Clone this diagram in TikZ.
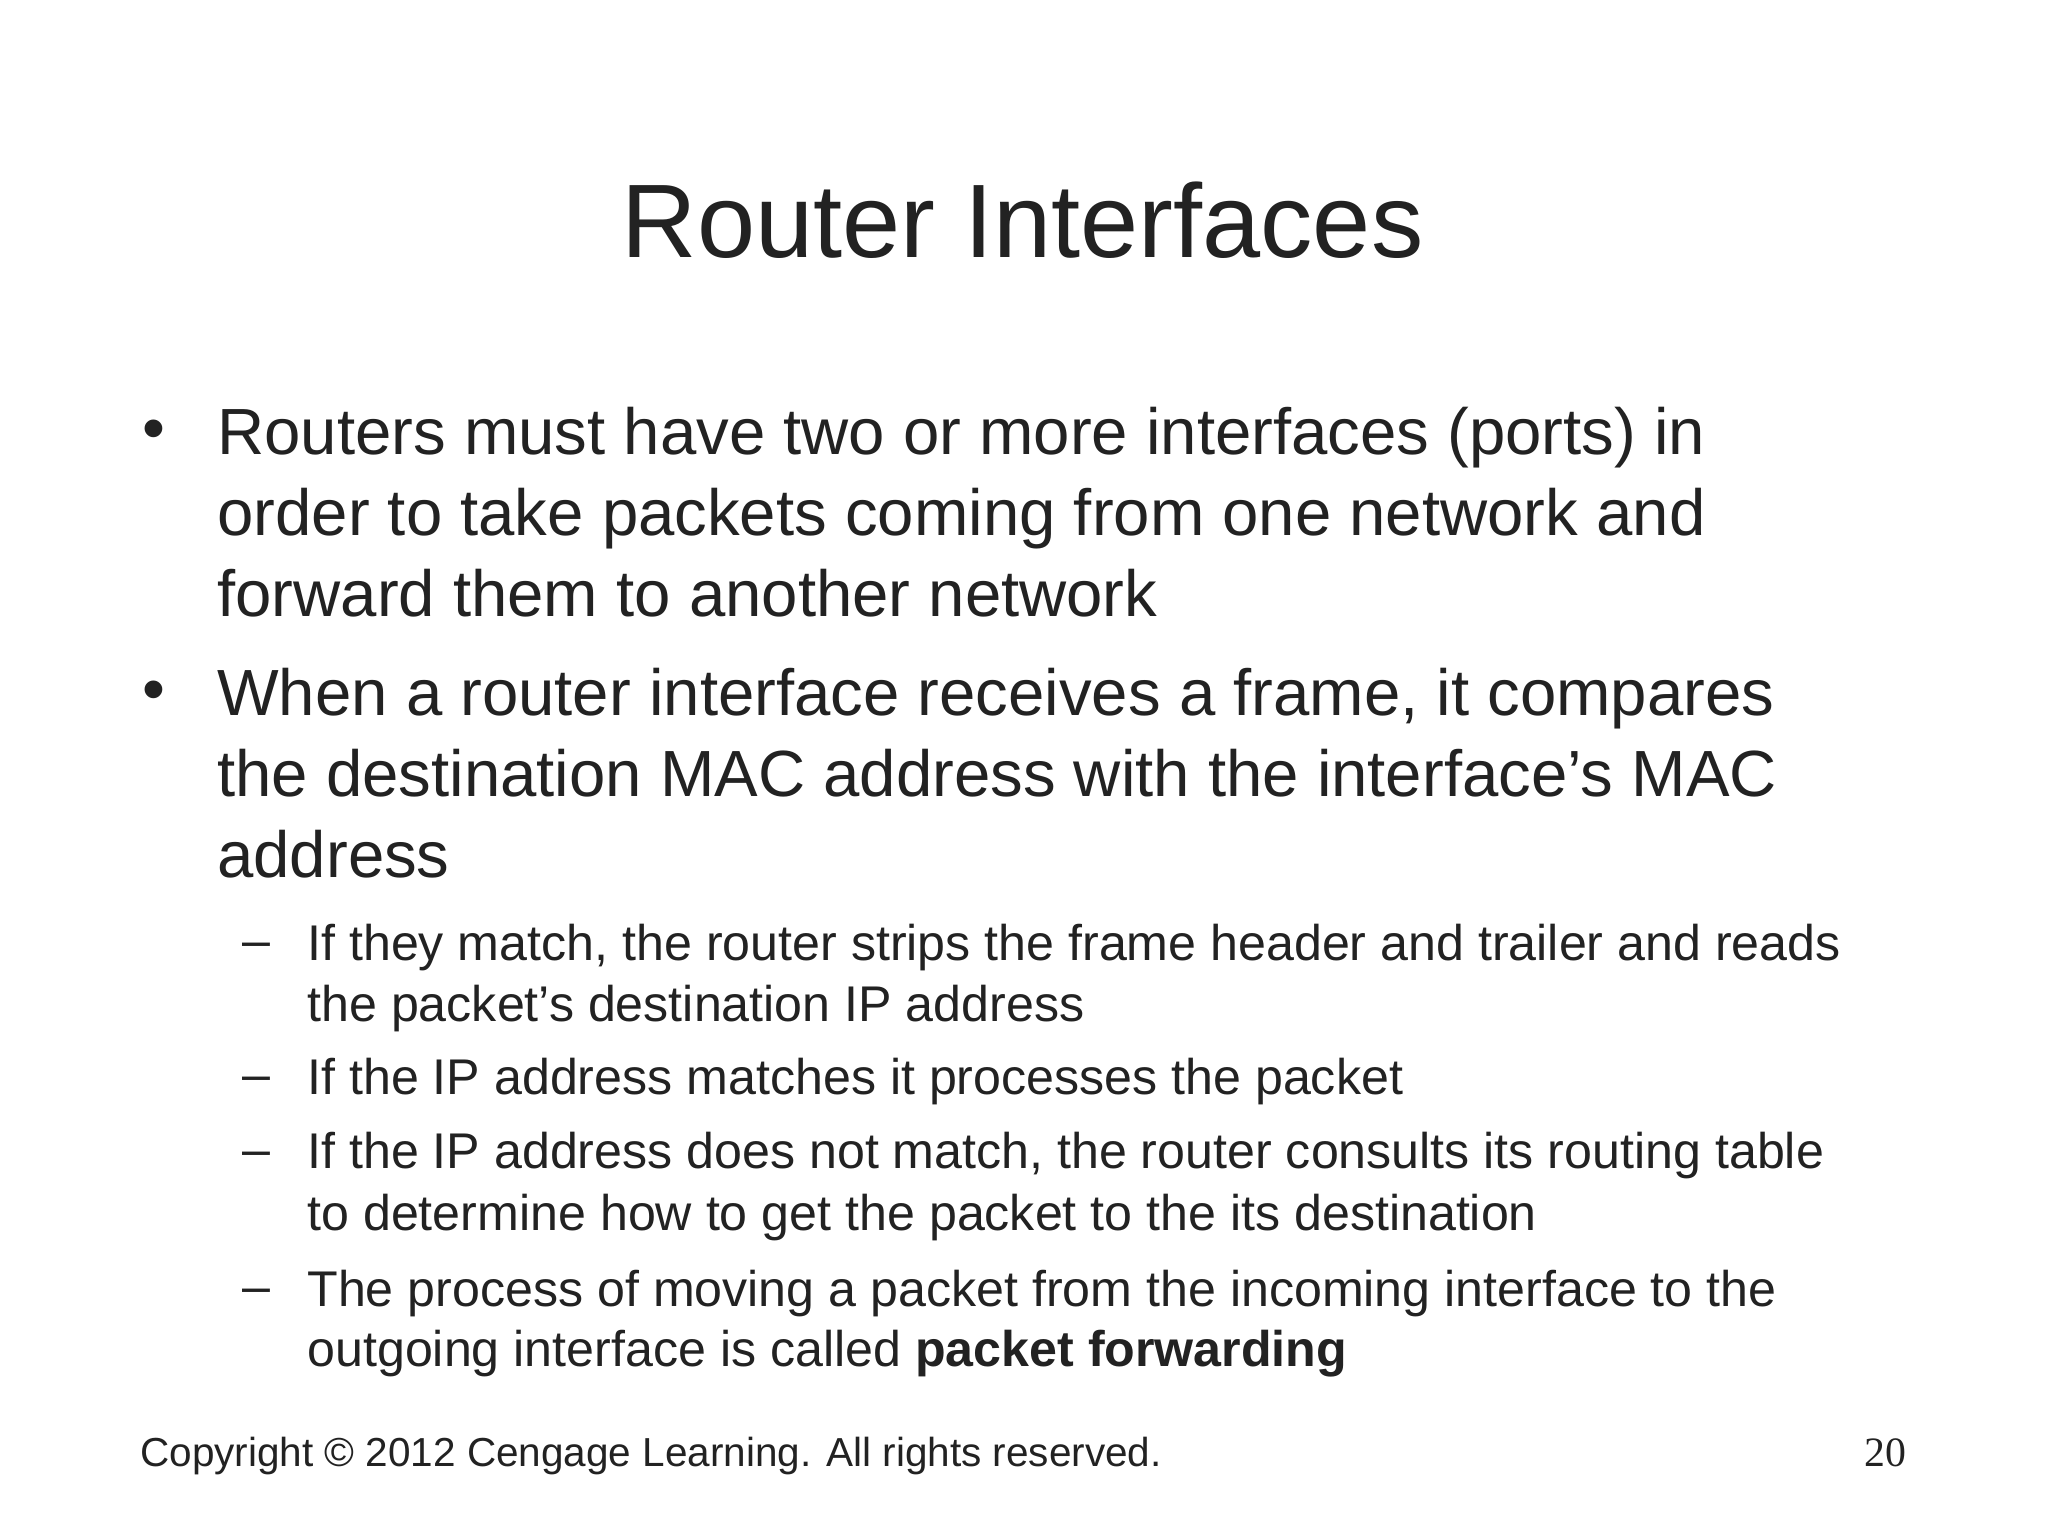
\documentclass[tikz,border=0pt]{standalone}
\usepackage{fontspec}
\setmainfont{Liberation Sans}
\newfontfamily\serifnum{Liberation Serif}
\definecolor{txt}{HTML}{222222}
\begin{document}
\begin{tikzpicture}[x=0.5pt,y=-0.5pt,
  every node/.style={inner sep=0pt,text=txt},
  lvlone/.style={anchor=base west,font=\fontsize{25}{30}\selectfont},
  lvltwo/.style={anchor=base west,font=\fontsize{19.2}{23}\selectfont},
  bul/.style={anchor=base,font=\fontsize{25}{30}\selectfont}]
\fill[white] (0,0) rectangle (1568,1176);
\useasboundingbox (0,0) rectangle (1568,1176);
\node[anchor=base,font=\fontsize{40}{48}\selectfont] (title) at (783,197) {Router Interfaces};
\node[bul] (b1) at (118,345) {•};
\node[lvlone] (l1) at (166,348) {Routers must have two or more interfaces (ports) in};
\node[lvlone] (l2) at (166,410) {order to take packets coming from one network and};
\node[lvlone] (l3) at (166,472) {forward them to another network};
\node[bul] (b2) at (118,545) {•};
\node[lvlone] (l4) at (166,548) {When a router interface receives a frame, it compares};
\node[lvlone] (l5) at (166,610) {the destination MAC address with the interface’s MAC};
\node[lvlone] (l6) at (166,672) {address};
\node[lvltwo,anchor=base] (d1) at (196,733) {–};
\node[lvltwo] (s1) at (235,735) {If they match, the router strips the frame header and trailer and reads};
\node[lvltwo] (s2) at (235,782) {the packet’s destination IP address};
\node[lvltwo,anchor=base] (d2) at (196,836) {–};
\node[lvltwo] (s3) at (235,838) {If the IP address matches it processes the packet};
\node[lvltwo,anchor=base] (d3) at (196,893) {–};
\node[lvltwo] (s4) at (235,895) {If the IP address does not match, the router consults its routing table};
\node[lvltwo] (s5) at (235,942) {to determine how to get the packet to the its destination};
\node[lvltwo,anchor=base] (d4) at (196,998) {–};
\node[lvltwo] (s6) at (235,1000) {The process of moving a packet from the incoming interface to the};
\node[lvltwo] (s7) at (235,1046) {outgoing interface is called \textbf{packet forwarding}};
\node[anchor=base west,font=\fontsize{15.5}{18}\selectfont] (copy) at (107,1123) {Copyright © 2012 Cengage Learning. All rights reserved.};
\node[anchor=base east,font=\serifnum\fontsize{16}{18}\selectfont] (pg) at (1460,1123) {20};
\end{tikzpicture}
\end{document}
